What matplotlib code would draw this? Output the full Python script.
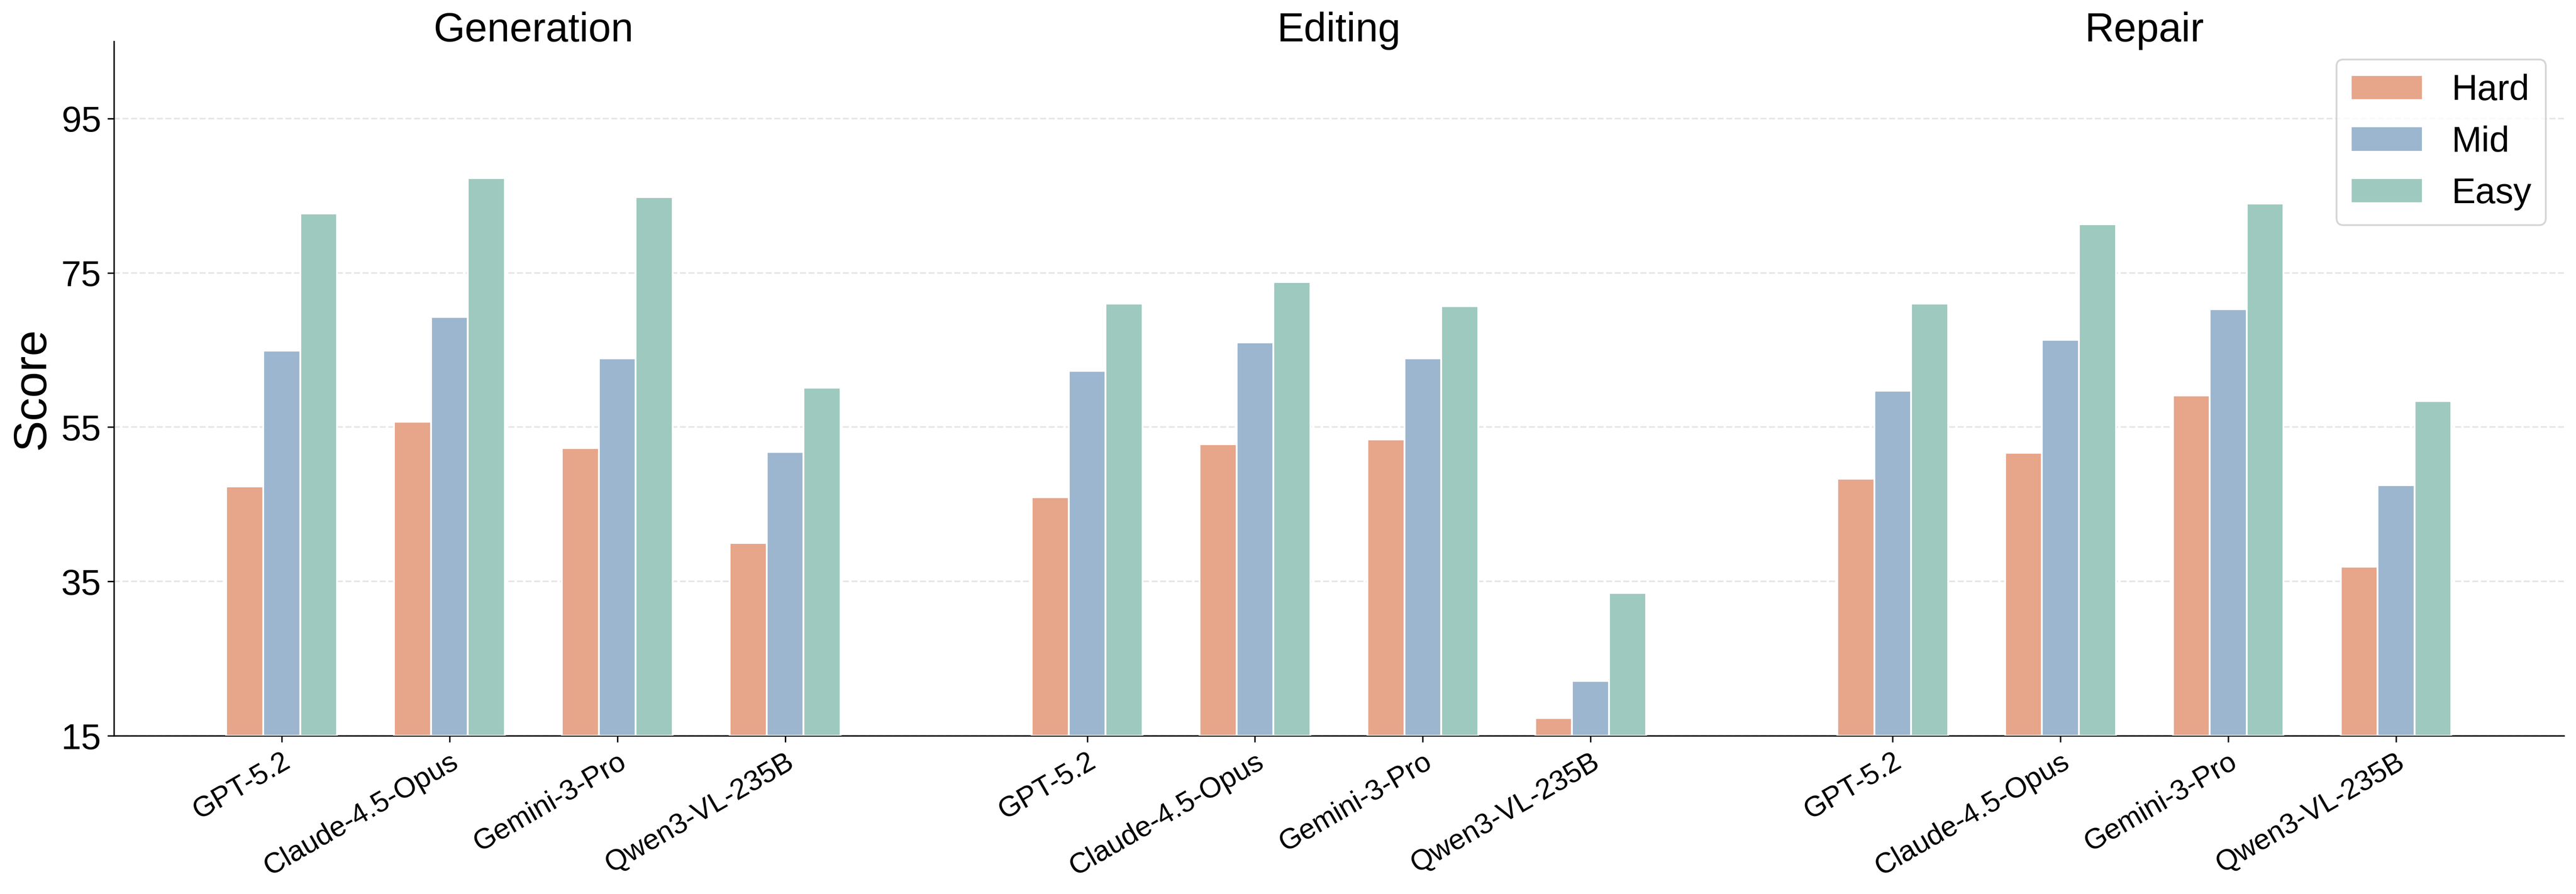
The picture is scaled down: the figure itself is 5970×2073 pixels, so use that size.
import numpy as np
import matplotlib
matplotlib.use('Agg')
import matplotlib.pyplot as plt
import matplotlib.transforms as mtransforms

plt.rcParams['font.family'] = ['Liberation Sans', 'DejaVu Sans']

# data
tasks = ['Generation', 'Editing', 'Repair']
models = ['GPT-5.2', 'Claude-4.5-Opus', 'Gemini-3-Pro', 'Qwen3-VL-235B']
levels = ['Hard', 'Mid', 'Easy']

generation_hard = [47.3, 55.7, 52.3, 40.0]
generation_mid = [64.9, 69.3, 63.9, 51.8]
generation_easy = [82.7, 87.3, 84.8, 60.1]

editing_hard = [45.9, 52.8, 53.4, 17.3]
editing_mid = [62.3, 66.0, 63.9, 22.1]
editing_easy = [71.0, 73.8, 70.7, 33.5]

repair_hard = [48.3, 51.7, 59.1, 36.9]
repair_mid = [59.7, 66.3, 70.3, 47.5]
repair_easy = [71.0, 81.3, 84.0, 58.4]

yticks = [15, 35, 55, 75, 95]

colors = ['#E7A58A', '#9CB6CF', '#9DC9BE']
scores = [
    [generation_hard, generation_mid, generation_easy],
    [editing_hard, editing_mid, editing_easy],
    [repair_hard, repair_mid, repair_easy],
]

width = 0.22
group_step = len(models) + 0.8

fig = plt.figure(figsize=(19.9, 6.91), dpi=300)
ax = fig.add_axes([0.0442, 0.177, 0.9511, 0.7767])

tick_pos = []
tick_lab = []
trans = mtransforms.blended_transform_factory(ax.transData, ax.transAxes)
for g, task in enumerate(tasks):
    x = g * group_step + np.arange(len(models))
    for k, level in enumerate(levels):
        vals = np.array(scores[g][k])
        ax.bar(x + (k - 1) * width, vals - 15, width, bottom=15,
               color=colors[k], edgecolor='white', linewidth=1.0,
               label=level if g == 0 else None, zorder=3)
    tick_pos += list(x)
    tick_lab += models
    ax.text(x.mean(), 1.0, task, transform=trans, ha='center',
            va='baseline', fontsize=22.5)

ax.set_xticks(tick_pos)
ax.set_xticklabels(tick_lab, rotation=30, ha='right', rotation_mode='anchor',
                   fontsize=16)
ax.set_yticks(yticks)
ax.tick_params(axis='y', labelsize=20)
ax.set_ylim(15, 105)
ax.set_xlim(-1.0, 2 * group_step + 4.0)
ax.set_ylabel('Score', fontsize=26)

ax.yaxis.grid(True, linestyle='--', color='#e6e6e6', linewidth=0.9, zorder=0)
ax.set_axisbelow(True)
for s in ['top', 'right']:
    ax.spines[s].set_visible(False)

leg = ax.legend(loc='upper right', fontsize=20, frameon=True, fancybox=True)
leg.get_frame().set_edgecolor('#cccccc')
leg.get_frame().set_linewidth(1.0)

fig.savefig('out.png', dpi=300)
